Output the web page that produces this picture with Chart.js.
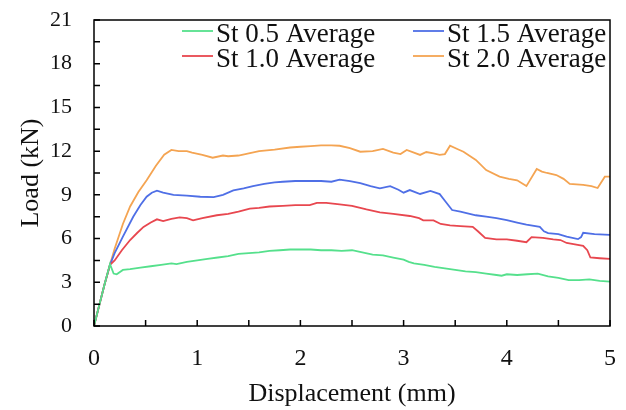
<!DOCTYPE html>
<html>
<head>
<meta charset="utf-8">
<script src="https://cdn.jsdelivr.net/npm/chart.js@4.4.1/dist/chart.umd.min.js"></script>
<style>
  html, body { margin: 0; padding: 0; background: #fff; }
  #wrap { width: 626px; height: 410px; }
</style>
</head>
<body>
<div id="wrap"><canvas id="mycanvas" width="626" height="410"></canvas></div>
<script>
// tick labels
var xTicks = [0, 1, 2, 3, 4, 5];
var yTicks = [0, 3, 6, 9, 12, 15, 18, 21];

// St 0.5 Average
var st05Disp = [0, 0.05, 0.1, 0.155, 0.19, 0.22, 0.28, 0.35, 0.45, 0.55, 0.65, 0.75, 0.8, 0.9, 1.0, 1.1, 1.2, 1.3, 1.4, 1.5, 1.6, 1.7, 1.8, 1.9, 2.0, 2.1, 2.2, 2.3, 2.4, 2.5, 2.6, 2.7, 2.8, 2.9, 3.0, 3.05, 3.1, 3.2, 3.3, 3.4, 3.5, 3.6, 3.7, 3.8, 3.9, 3.95, 4.0, 4.1, 4.2, 4.3, 4.4, 4.5, 4.6, 4.7, 4.8, 4.9, 5.0];
var st05Load = [0, 1.4, 2.8, 4.25, 3.6, 3.55, 3.85, 3.9, 4.0, 4.1, 4.2, 4.3, 4.25, 4.4, 4.5, 4.6, 4.7, 4.8, 4.95, 5.0, 5.05, 5.15, 5.2, 5.25, 5.25, 5.25, 5.2, 5.2, 5.15, 5.2, 5.05, 4.9, 4.85, 4.7, 4.55, 4.4, 4.3, 4.2, 4.05, 3.95, 3.85, 3.75, 3.7, 3.6, 3.5, 3.45, 3.55, 3.5, 3.55, 3.6, 3.4, 3.3, 3.15, 3.15, 3.2, 3.1, 3.05];

// St 1.0 Average
var st10Disp = [0, 0.05, 0.1, 0.155, 0.2, 0.27, 0.35, 0.42, 0.48, 0.55, 0.61, 0.67, 0.75, 0.83, 0.9, 0.96, 1.05, 1.19, 1.3, 1.4, 1.51, 1.6, 1.7, 1.83, 1.95, 2.09, 2.16, 2.25, 2.38, 2.5, 2.64, 2.77, 2.9, 3.06, 3.15, 3.19, 3.29, 3.36, 3.45, 3.55, 3.67, 3.72, 3.79, 3.9, 4.0, 4.1, 4.19, 4.24, 4.35, 4.45, 4.52, 4.58, 4.66, 4.74, 4.78, 4.81, 4.9, 5.0];
var st10Load = [0, 1.4, 2.8, 4.2, 4.5, 5.2, 5.9, 6.4, 6.8, 7.1, 7.32, 7.2, 7.35, 7.45, 7.4, 7.25, 7.4, 7.6, 7.7, 7.85, 8.05, 8.1, 8.2, 8.25, 8.3, 8.3, 8.45, 8.45, 8.35, 8.25, 8.0, 7.8, 7.7, 7.55, 7.4, 7.25, 7.25, 7.0, 6.9, 6.85, 6.8, 6.5, 6.05, 5.95, 5.95, 5.85, 5.75, 6.1, 6.05, 5.95, 5.9, 5.7, 5.6, 5.5, 5.2, 4.7, 4.65, 4.6];

// St 1.5 Average
var st15Disp = [0, 0.05, 0.1, 0.155, 0.2, 0.28, 0.38, 0.45, 0.51, 0.56, 0.61, 0.67, 0.77, 0.9, 1.03, 1.16, 1.25, 1.35, 1.45, 1.54, 1.65, 1.75, 1.83, 1.95, 2.1, 2.2, 2.3, 2.38, 2.48, 2.58, 2.68, 2.77, 2.87, 2.95, 3.0, 3.06, 3.16, 3.26, 3.35, 3.4, 3.47, 3.55, 3.61, 3.7, 3.8, 3.9, 4.0, 4.1, 4.19, 4.32, 4.36, 4.4, 4.5, 4.58, 4.69, 4.72, 4.74, 4.85, 5.0];
var st15Load = [0, 1.4, 2.8, 4.2, 5.0, 6.13, 7.5, 8.3, 8.87, 9.15, 9.29, 9.15, 9.0, 8.95, 8.87, 8.85, 9.0, 9.3, 9.45, 9.6, 9.75, 9.85, 9.9, 9.95, 9.95, 9.95, 9.9, 10.05, 9.95, 9.8, 9.6, 9.45, 9.6, 9.35, 9.15, 9.33, 9.06, 9.27, 9.05, 8.6, 7.96, 7.85, 7.75, 7.6, 7.5, 7.4, 7.27, 7.1, 6.95, 6.8, 6.5, 6.37, 6.3, 6.13, 5.96, 6.1, 6.4, 6.3, 6.25];

// St 2.0 Average
var st20Disp = [0, 0.05, 0.1, 0.155, 0.2, 0.28, 0.35, 0.43, 0.51, 0.6, 0.68, 0.75, 0.82, 0.9, 0.95, 1.05, 1.15, 1.25, 1.3, 1.4, 1.5, 1.6, 1.75, 1.9, 2.0, 2.1, 2.2, 2.3, 2.38, 2.48, 2.58, 2.7, 2.8, 2.9, 2.97, 3.03, 3.1, 3.16, 3.22, 3.29, 3.35, 3.4, 3.45, 3.52, 3.58, 3.7, 3.8, 3.93, 4.02, 4.1, 4.19, 4.29, 4.34, 4.39, 4.48, 4.55, 4.61, 4.74, 4.82, 4.88, 4.95, 5.0];
var st20Load = [0, 1.4, 2.8, 4.2, 5.3, 7.0, 8.2, 9.2, 10.0, 11.0, 11.75, 12.08, 12.0, 12.0, 11.9, 11.75, 11.55, 11.7, 11.65, 11.7, 11.85, 12.0, 12.1, 12.25, 12.3, 12.35, 12.4, 12.4, 12.37, 12.2, 11.96, 12.0, 12.15, 11.9, 11.8, 12.08, 11.9, 11.74, 11.94, 11.85, 11.74, 11.8, 12.37, 12.15, 11.96, 11.4, 10.7, 10.25, 10.1, 10.0, 9.6, 10.78, 10.6, 10.5, 10.36, 10.1, 9.75, 9.68, 9.6, 9.47, 10.25, 10.25];

var seriesNames = ['St 0.5 Average', 'St 1.0 Average', 'St 1.5 Average', 'St 2.0 Average'];
var seriesColors = ['#55e08c', '#e8474f', '#4f6fe6', '#f4a452'];

function toPoints(xs, ys) {
  var pts = [];
  for (var i = 0; i < xs.length; i++) pts.push({x: xs[i], y: ys[i]});
  return pts;
}

var allDisp = [st05Disp, st10Disp, st15Disp, st20Disp];
var allLoad = [st05Load, st10Load, st15Load, st20Load];

var datasets = [];
for (var i = 0; i < seriesNames.length; i++) {
  datasets.push({
    label: seriesNames[i],
    data: toPoints(allDisp[i], allLoad[i]),
    borderColor: seriesColors[i],
    borderWidth: 1.8,
    pointRadius: 0,
    tension: 0,
    fill: false
  });
}

var FONT = "'Liberation Serif', 'Times New Roman', serif";

// frame, inward ticks (major + minor) and the in-plot legend
var framePlugin = {
  id: 'frame',
  afterDraw: function(chart) {
    var ctx = chart.ctx;
    var a = chart.chartArea;
    var xs = chart.scales.x, ys = chart.scales.y;
    ctx.save();
    ctx.strokeStyle = '#000';
    ctx.lineWidth = 1.5;
    ctx.strokeRect(a.left, a.top, a.right - a.left, a.bottom - a.top);

    ctx.lineWidth = 1.5;
    ctx.beginPath();
    for (var v = 0; v <= 5.001; v += 0.5) {
      var px = xs.getPixelForValue(v);
      ctx.moveTo(px, a.bottom);
      ctx.lineTo(px, a.bottom - 6);
    }
    for (var w = 0; w <= 21.001; w += 1.5) {
      var py = ys.getPixelForValue(w);
      ctx.moveTo(a.left, py);
      ctx.lineTo(a.left + 6, py);
    }
    ctx.stroke();

    // legend: two columns, order 0.5 / 1.0 left, 1.5 / 2.0 right
    var cols = [182, 413];
    var rows = [31, 56];
    ctx.font = '27px ' + FONT;
    ctx.textBaseline = 'alphabetic';
    ctx.textAlign = 'left';
    for (var k = 0; k < 4; k++) {
      var c = Math.floor(k / 2), r = k % 2;
      var lx = cols[c], ly = rows[r];
      ctx.strokeStyle = seriesColors[k];
      ctx.lineWidth = 1.8;
      ctx.beginPath();
      ctx.moveTo(lx, ly);
      ctx.lineTo(lx + 31, ly);
      ctx.stroke();
      ctx.fillStyle = '#111';
      ctx.fillText(seriesNames[k], lx + 34, ly + 11);
    }
    ctx.restore();
  }
};

var ctx = document.getElementById('mycanvas');

var chart = new Chart(ctx, {
  type: 'line',
  data: { datasets: datasets },
  options: {
    responsive: false,
    animation: false,
    events: [],
    layout: { padding: { left: 0, top: 20, right: 16, bottom: 0 } },
    plugins: {
      legend: { display: false },
      tooltip: { enabled: false }
    },
    scales: {
      x: {
        type: 'linear',
        min: 0,
        max: 5,
        afterFit: function(scale) {
          scale.height = 84;
          scale.paddingLeft = 0;
          scale.paddingRight = 0;
        },
        afterBuildTicks: function(scale) {
          scale.ticks = xTicks.map(function(v) { return {value: v}; });
        },
        grid: { display: false, drawTicks: false },
        border: { display: false },
        ticks: {
          color: '#111',
          padding: 18,
          maxRotation: 0,
          font: { family: FONT, size: 24 }
        },
        title: {
          display: true,
          text: 'Displacement (mm)',
          color: '#111',
          padding: { top: 0, bottom: 0 },
          font: { family: FONT, size: 26 }
        }
      },
      y: {
        type: 'linear',
        min: 0,
        max: 21,
        afterFit: function(scale) {
          scale.width = 94;
          scale.paddingTop = 0;
          scale.paddingBottom = 0;
        },
        afterBuildTicks: function(scale) {
          scale.ticks = yTicks.map(function(v) { return {value: v}; });
        },
        grid: { display: false, drawTicks: false },
        border: { display: false },
        ticks: {
          color: '#111',
          padding: 22,
          font: { family: FONT, size: 22 }
        },
        title: {
          display: true,
          text: 'Load (kN)',
          color: '#111',
          padding: { top: 16, bottom: 0 },
          font: { family: FONT, size: 26 }
        }
      }
    }
  },
  plugins: [framePlugin]
});
</script>
</body>
</html>
